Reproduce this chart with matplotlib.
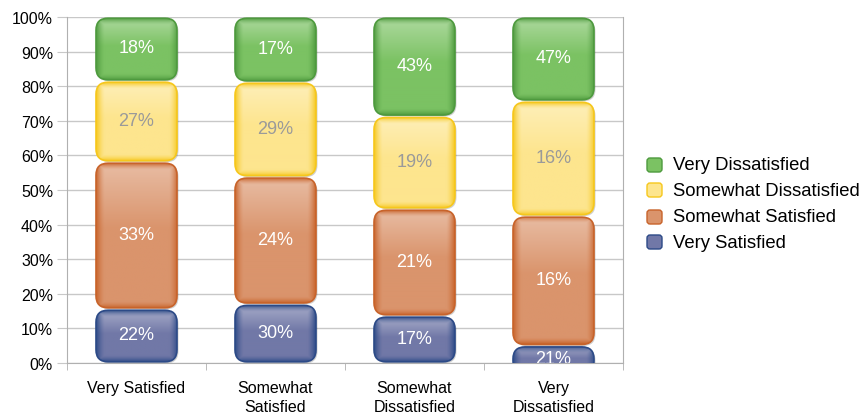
import numpy as np
import matplotlib.pyplot as plt
from matplotlib.patches import FancyBboxPatch
from matplotlib.colors import to_rgb

plt.rcParams['font.family'] = ['Liberation Sans', 'DejaVu Sans']

categories = ["Very Satisfied", "Somewhat\nSatisfied", "Somewhat\nDissatisfied", "Very\nDissatisfied"]

# segment heights as drawn (percent of bar)
very_satisfied = [15.6, 17.0, 13.6, 5.0]
somewhat_satisfied = [42.5, 36.8, 30.9, 37.5]
somewhat_dissatisfied = [23.4, 27.4, 26.8, 33.2]
very_dissatisfied = [18.5, 18.8, 28.7, 24.3]

# data labels printed on the segments
vs_labels = ["22%", "30%", "17%", "21%"]
ss_labels = ["33%", "24%", "21%", "16%"]
sd_labels = ["27%", "29%", "19%", "16%"]
vd_labels = ["18%", "17%", "43%", "47%"]

series = [
    ("Very Satisfied", very_satisfied, vs_labels, "#2c4a87", "#7178a7", "white"),
    ("Somewhat Satisfied", somewhat_satisfied, ss_labels, "#c8632a", "#da946c", "white"),
    ("Somewhat Dissatisfied", somewhat_dissatisfied, sd_labels, "#f6c71c", "#fde58e", "#9a9a9a"),
    ("Very Dissatisfied", very_dissatisfied, vd_labels, "#4e9a3e", "#7bc263", "white"),
]

W, H, DPI = 863, 414, 100
fig = plt.figure(figsize=(W / DPI, H / DPI), dpi=DPI)
ax = fig.add_axes([67 / W, 1 - 364 / H, (623 - 67) / W, (364 - 18) / H])
ax.set_xlim(-0.5, 3.5)
ax.set_ylim(0, 100)

px_x = (623 - 67) / 4.0   # pixels per x unit
px_y = (364 - 18) / 100.0  # pixels per y unit


def gradient_img(edge, fill, wpx, hpx):
    nx, ny = max(int(wpx), 2), max(int(hpx), 2)
    xs = np.arange(nx) + 0.5
    ys = np.arange(ny) + 0.5
    dx = np.minimum(xs, nx - xs)
    dy = np.minimum(ys, ny - ys)
    fx = np.clip(1 - dx / 9.0, 0, 1) ** 1.5
    fy = np.clip(1 - dy / 7.0, 0, 1) ** 1.5
    f = np.maximum(fx[None, :], fy[:, None])
    top = np.clip(1 - ys / (0.45 * ny), 0, 1)[:, None] * 0.38
    e = np.array(to_rgb(edge))
    c = np.array(to_rgb(fill))
    img = c[None, None, :] * np.ones((ny, nx, 1))
    img = img + (1 - img) * top[..., None]
    img = img * (1 - f[..., None]) + e[None, None, :] * f[..., None]
    return np.clip(img, 0, 1)


bar_w = 81 / px_x
gap = 0.35
rad = 12 / px_x
aspect = px_x / px_y
min_h = (2 * 12 + 2) / px_y
bottoms = np.zeros(4)

for name, vals, labs, edge, fill, tcol in series:
    for i, v in enumerate(vals):
        x0 = i - bar_w / 2
        y0 = bottoms[i] + gap
        h = v - 2 * gap
        if h < min_h and bottoms[i] == 0:
            # too short for the rounded box: it runs on below the axis and is cut
            y0 = y0 + h - min_h
            h = min_h
        # shadow
        sh = FancyBboxPatch((x0 + 1.5 / px_x, y0 - 1.5 / px_y), bar_w, h,
                            boxstyle=f"round,pad=0,rounding_size={rad}",
                            mutation_aspect=aspect, fc="black", ec="none",
                            alpha=0.18, zorder=2)
        ax.add_patch(sh)
        p = FancyBboxPatch((x0, y0), bar_w, h,
                           boxstyle=f"round,pad=0,rounding_size={rad}",
                           mutation_aspect=aspect, fc="none", ec=edge,
                           lw=1.2, zorder=4)
        ax.add_patch(p)
        img = gradient_img(edge, fill, bar_w * px_x, h * px_y)
        im = ax.imshow(img, extent=(x0, x0 + bar_w, y0, y0 + h), origin="upper",
                       aspect="auto", interpolation="bilinear", zorder=3)
        im.set_clip_path(p)
        ax.text(i, y0 + h / 2 + 0.4, labs[i], ha="center", va="center",
                fontsize=13, color=tcol, zorder=5, clip_on=True)
        bottoms[i] += v

ax.set_xlim(-0.5, 3.5)
ax.set_ylim(0, 100)

ax.set_yticks(np.arange(0, 101, 10))
ax.set_yticklabels([f"{t}%" for t in range(0, 101, 10)], fontsize=11.5)
ax.yaxis.grid(True, color="#c8c8c8", lw=1)
ax.set_axisbelow(True)
ax.tick_params(axis="y", length=7, color="#c8c8c8", pad=3)

ax.set_xticks(np.arange(4))
ax.set_xticklabels(categories, fontsize=11.5, linespacing=1.35)
ax.set_xticks(np.arange(-0.5, 3.6, 1), minor=True)
ax.tick_params(axis="x", which="major", length=0, pad=12)
ax.tick_params(axis="x", which="minor", length=5, color="#b0b0b0")

for s in ["left", "bottom", "right"]:
    ax.spines[s].set_color("#b0b0b0")
ax.spines["top"].set_visible(False)

# legend drawn by hand with rounded swatches
leg = [("Very Dissatisfied", "#4e9a3e", "#7bc263", 166),
       ("Somewhat Dissatisfied", "#f6c71c", "#fde58e", 191),
       ("Somewhat Satisfied", "#c8632a", "#da946c", 218),
       ("Very Satisfied", "#2c4a87", "#7178a7", 243)]
tr = fig.dpi_scale_trans
for name, edge, fill, yc in leg:
    sx, sy, s = 647 / DPI, (H - yc - 7) / DPI, 15 / DPI
    sw = FancyBboxPatch((sx, sy), s, 14 / DPI,
                        boxstyle=f"round,pad=0,rounding_size={3 / DPI}",
                        transform=tr, fc=fill, ec=edge, lw=1)
    fig.add_artist(sw)
    fig.text(673 / W, 1 - yc / H, name, fontsize=13.3, va="center", ha="left")

fig.savefig("out.png", dpi=DPI)
